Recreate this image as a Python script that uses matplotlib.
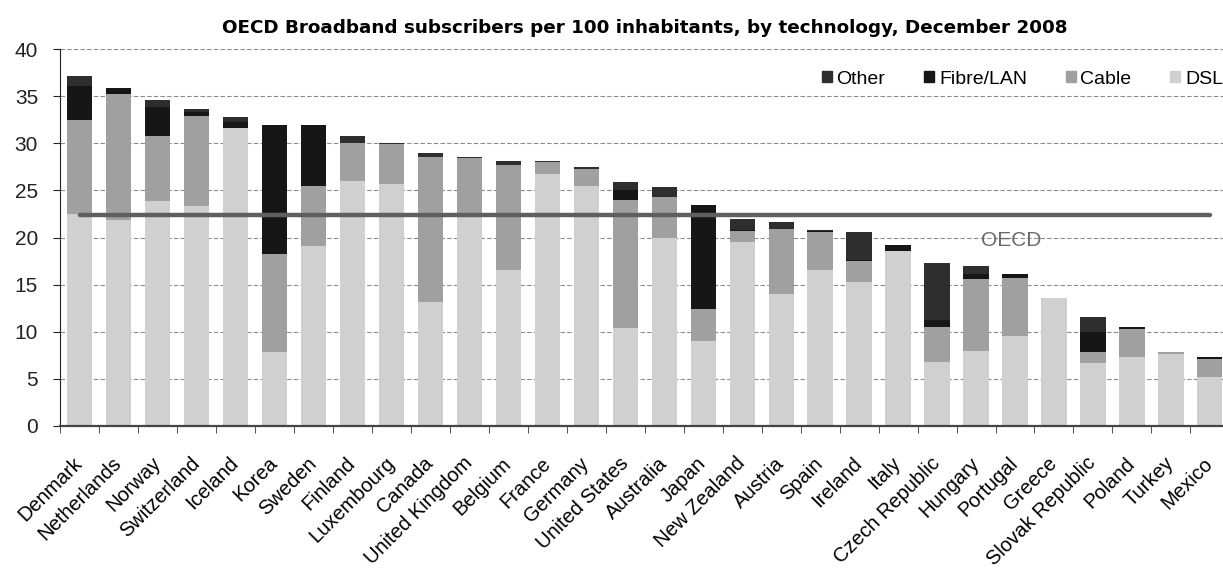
import numpy as np
import matplotlib.pyplot as plt
from matplotlib.patches import Patch

plt.rcParams['font.family'] = ['Liberation Sans', 'DejaVu Sans']

countries = ['Denmark', 'Netherlands', 'Norway', 'Switzerland', 'Iceland', 'Korea',
             'Sweden', 'Finland', 'Luxembourg', 'Canada', 'United Kingdom', 'Belgium',
             'France', 'Germany', 'United States', 'Australia', 'Japan', 'New Zealand',
             'Austria', 'Spain', 'Ireland', 'Italy', 'Czech Republic', 'Hungary',
             'Portugal', 'Greece', 'Slovak Republic', 'Poland', 'Turkey', 'Mexico']

dsl = [22.5, 21.9, 23.9, 23.3, 31.6, 7.8, 19.1, 26.0, 25.7, 13.1, 22.3, 16.55,
       26.75, 25.45, 10.4, 20.0, 9.05, 19.55, 13.95, 16.55, 15.25, 18.55, 6.8, 7.95,
       9.55, 13.55, 6.65, 7.25, 7.65, 5.2]
cable = [9.95, 13.4, 6.85, 9.6, 0.0, 10.45, 6.35, 4.0, 4.2, 15.5, 6.1, 11.15,
         1.25, 1.85, 13.6, 4.3, 3.3, 1.15, 7.0, 4.0, 2.3, 0.0, 3.7, 7.6,
         6.15, 0.0, 1.15, 3.0, 0.15, 1.9]
fibre = [3.6, 0.55, 3.1, 0.4, 0.65, 13.75, 6.55, 0.0, 0.0, 0.0, 0.0, 0.0,
         0.0, 0.0, 1.0, 0.0, 11.15, 0.1, 0.0, 0.1, 0.1, 0.7, 0.7, 0.55,
         0.4, 0.0, 2.15, 0.25, 0.0, 0.15]
other = [1.1, 0.0, 0.75, 0.35, 0.6, 0.0, 0.0, 0.75, 0.1, 0.4, 0.15, 0.45,
         0.15, 0.15, 0.85, 1.1, 0.0, 1.15, 0.7, 0.2, 2.9, 0.0, 6.05, 0.85,
         0.0, 0.0, 1.55, 0.0, 0.05, 0.0]
oecd_avg = 22.4

c_dsl, c_cable, c_fibre, c_other = '#d0d0d0', '#a0a0a0', '#161616', '#2e2e2e'

fig = plt.figure(figsize=(12.23, 5.74), dpi=100)
ax = fig.add_axes([60.3 / 1223, 1 - 425.7 / 574, 1169 / 1223, (425.7 - 49.3) / 574])

x = np.arange(len(countries))
w = 0.65
b1 = np.array(dsl)
b2 = b1 + np.array(cable)
b3 = b2 + np.array(fibre)
ax.bar(x, dsl, w, color=c_dsl, zorder=2)
ax.bar(x, cable, w, bottom=b1, color=c_cable, zorder=2)
ax.bar(x, fibre, w, bottom=b2, color=c_fibre, zorder=2)
ax.bar(x, other, w, bottom=b3, color=c_other, zorder=2)

# OECD average line
ax.plot([x[0], x[-1]], [oecd_avg, oecd_avg], color='#5f5f5f', lw=3.2,
        solid_capstyle='round', zorder=3)
ax.text(23.9, 19.7, 'OECD', color='#6a6a6a', fontsize=15,
        ha='center', va='center', zorder=4)

ax.set_xlim(-0.5, len(countries) - 0.5)
ax.set_ylim(0, 40)
ax.set_yticks(np.arange(0, 41, 5))
ax.yaxis.grid(True, linestyle=(0, (4, 2)), color='#8c8c8c', lw=0.8, zorder=0)
ax.set_axisbelow(True)

ax.set_xticks(x)
ax.set_xticklabels(countries, rotation=45, ha='right', va='center',
                   rotation_mode='anchor', fontsize=14.5)
ax.set_xticks(np.arange(-0.5, len(countries), 1), minor=True)
ax.tick_params(axis='x', which='major', length=0, pad=25)
ax.tick_params(axis='x', which='minor', length=5, direction='out', color='#333333')
ax.tick_params(axis='y', labelsize=15, length=5, pad=11, color='#222222',
               labelcolor='#222222')

for s in ['top', 'right']:
    ax.spines[s].set_visible(False)
ax.spines['left'].set_color('#222222')
ax.spines['bottom'].set_color('#454545')
ax.spines['bottom'].set_linewidth(1.6)

ax.set_title('OECD Broadband subscribers per 100 inhabitants, by technology, December 2008',
             fontsize=13.2, fontweight='bold', family='DejaVu Sans', pad=11.5)

handles = [Patch(color=c_other), Patch(color=c_fibre), Patch(color=c_cable), Patch(color=c_dsl)]
fig.legend(handles, ['Other', 'Fibre/LAN', 'Cable', 'DSL'], ncol=4, frameon=False,
           loc='center left', bbox_to_anchor=(822 / 1223, 1 - 79 / 574),
           fontsize=14, handlelength=0.5, handleheight=0.5, handletextpad=0.25,
           columnspacing=2.0, borderpad=0, borderaxespad=0)

fig.savefig('out.png', dpi=100)
